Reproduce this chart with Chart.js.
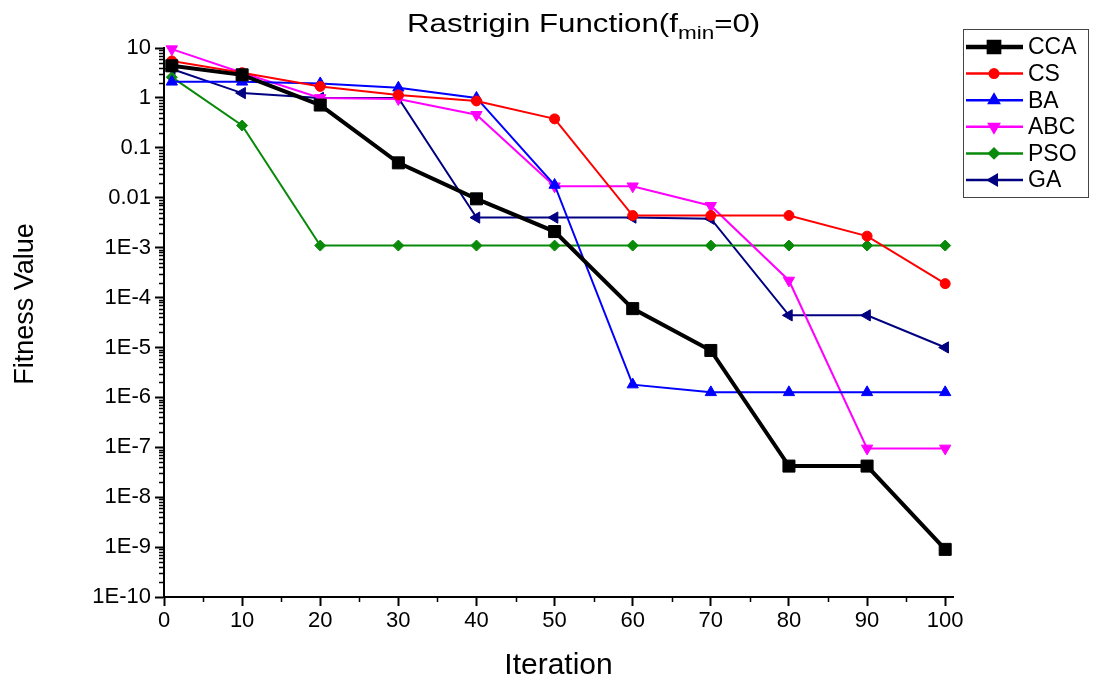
<!DOCTYPE html>
<html>
<head>
<meta charset="utf-8">
<title>Rastrigin Function</title>
<script src="https://cdn.jsdelivr.net/npm/chart.js@4"></script>
<style>
  html, body { margin: 0; padding: 0; background: #fff; }
  #box { width: 1102px; height: 684px; }
</style>
</head>
<body>
<div id="box"><canvas id="fitness"></canvas></div>
<script>
// iterations where each algorithm was sampled
var iterations = [1, 10, 20, 30, 40, 50, 60, 70, 80, 90, 100];

var ccaValues = [4.4, 2.9, 0.72, 0.05, 0.0095, 0.0021, 6e-5, 8.7e-6, 4.2e-8, 4.2e-8, 9e-10];
var csValues  = [5.5, 3.2, 1.7, 1.15, 0.87, 0.38, 0.0044, 0.0044, 0.0044, 0.0017, 1.9e-4];
var baValues  = [2.1, 2.1, 1.95, 1.6, 1.0, 0.018, 1.8e-6, 1.26e-6, 1.26e-6, 1.26e-6, 1.26e-6];
var abcValues = [9.5, 3.2, 1.0, 0.95, 0.46, 0.017, 0.017, 0.0069, 2.2e-4, 9.5e-8, 9.5e-8];
var psoValues = [2.6, 0.28, 0.0011, 0.0011, 0.0011, 0.0011, 0.0011, 0.0011, 0.0011, 0.0011, 0.0011];
var gaValues  = [3.8, 1.25, 1.0, 1.0, 0.004, 0.004, 0.004, 0.0038, 4.4e-5, 4.4e-5, 1e-5];

var xTicks = [0, 10, 20, 30, 40, 50, 60, 70, 80, 90, 100];
var yTicks = [1e-10, 1e-9, 1e-8, 1e-7, 1e-6, 1e-5, 1e-4, 1e-3, 0.01, 0.1, 1, 10];
var yTickLabels = ['1E-10', '1E-9', '1E-8', '1E-7', '1E-6', '1E-5', '1E-4', '1E-3', '0.01', '0.1', '1', '10'];

var FONT = "'Liberation Sans', Arial, sans-serif";

function pts(values) {
    return values.map(function (v, i) { return { x: iterations[i], y: v }; });
}

function series(label, values, color, style, radius, width, rotation) {
    return {
        label: label,
        data: pts(values),
        borderColor: color,
        backgroundColor: color,
        borderWidth: width,
        pointStyle: style,
        pointRadius: radius,
        pointHoverRadius: radius,
        pointBorderWidth: 1,
        pointRotation: rotation || 0,
        tension: 0,
        clip: false
    };
}

// minor ticks, legend box and the text that Chart.js can't lay out (subscript title)
var decorations = {
    id: 'decorations',
    afterDraw: function (chart) {
        var ctx = chart.ctx;
        var xs = chart.scales.x, ys = chart.scales.y;
        var area = chart.chartArea;
        ctx.save();
        ctx.strokeStyle = '#000';
        ctx.lineWidth = 1.5;
        ctx.beginPath();
        for (var n = -10; n < 1; n++) {
            for (var k = 2; k <= 9; k++) {
                var py = Math.round(ys.getPixelForValue(k * Math.pow(10, n))) + 0.5;
                ctx.moveTo(area.left - 5, py);
                ctx.lineTo(area.left, py);
            }
        }
        for (var m = 5; m < 100; m += 10) {
            var px = Math.round(xs.getPixelForValue(m)) + 0.5;
            ctx.moveTo(px, area.bottom);
            ctx.lineTo(px, area.bottom + 5);
        }
        ctx.stroke();

        // title with subscript
        ctx.fillStyle = '#000';
        ctx.textBaseline = 'alphabetic';
        ctx.textAlign = 'left';
        ctx.save();
        ctx.translate(407, 32);
        ctx.scale(1.25, 1);
        ctx.font = '25px ' + FONT;
        var a = 'Rastrigin Function(f';
        ctx.fillText(a, 0, 0);
        var wa = ctx.measureText(a).width;
        ctx.font = '18px ' + FONT;
        ctx.fillText('min', wa, 7);
        var wb = ctx.measureText('min').width;
        ctx.font = '25px ' + FONT;
        ctx.fillText('=0)', wa + wb, 0);
        ctx.restore();

        // y axis title
        ctx.save();
        ctx.translate(33, 304);
        ctx.rotate(-Math.PI / 2);
        ctx.textAlign = 'center';
        ctx.font = '27px ' + FONT;
        ctx.fillText('Fitness Value', 0, 0);
        ctx.restore();

        // legend
        ctx.lineWidth = 1;
        ctx.strokeStyle = '#444';
        ctx.strokeRect(963.5, 29.5, 125, 168);
        chart.data.datasets.forEach(function (ds, i) {
            var ly = 47 + i * 26.6;
            ctx.strokeStyle = ds.borderColor;
            ctx.lineWidth = ds.borderWidth + 0.5;
            ctx.beginPath();
            ctx.moveTo(966, ly);
            ctx.lineTo(1023, ly);
            ctx.stroke();
            ctx.fillStyle = ds.backgroundColor;
            Chart.helpers.drawPoint(ctx, {
                pointStyle: ds.pointStyle,
                rotation: ds.pointRotation,
                radius: ds.pointRadius * 0.85,
                borderWidth: 1
            }, 994, ly);
            ctx.fillStyle = '#000';
            ctx.font = '23px ' + FONT;
            ctx.textBaseline = 'middle';
            ctx.fillText(ds.label, 1028, ly + 1);
        });
        ctx.restore();
    }
};

document.addEventListener("DOMContentLoaded", function () {
    var ctx = document.getElementById('fitness').getContext('2d');
    var fitness = new Chart(ctx, {
        type: 'line',
        data: {
            datasets: [
                series('CCA', ccaValues, '#000000', 'rect', 8.5, 4),
                series('CS', csValues, '#ff0000', 'circle', 5, 2),
                series('BA', baValues, '#0000ff', 'triangle', 6.5, 2),
                series('ABC', abcValues, '#ff00ff', 'triangle', 6.5, 2, 180),
                series('PSO', psoValues, '#0a8a0a', 'rectRot', 5.5, 2),
                series('GA', gaValues, '#000080', 'triangle', 6.5, 2, -90)
            ]
        },
        options: {
            responsive: true,
            maintainAspectRatio: false,
            animation: false,
            layout: { padding: { top: 48, right: 149, left: 0, bottom: 0 } },
            plugins: {
                legend: { display: false },
                title: { display: false },
                tooltip: { enabled: false }
            },
            scales: {
                x: {
                    type: 'linear',
                    min: 0,
                    max: 101,
                    afterFit: function (scale) { scale.height = 87; },
                    afterBuildTicks: function (scale) {
                        scale.ticks = xTicks.map(function (v) { return { value: v }; });
                    },
                    border: { display: true, color: '#000', width: 2 },
                    grid: { drawOnChartArea: false, tickLength: 9, tickColor: '#000', tickWidth: 2 },
                    ticks: {
                        color: '#000',
                        padding: 2,
                        maxRotation: 0,
                        font: { family: FONT, size: 22 },
                        callback: function (v) { return String(v); }
                    },
                    title: {
                        display: true,
                        text: 'Iteration',
                        color: '#000',
                        padding: { top: 0, bottom: 0 },
                        font: { family: FONT, size: 30 }
                    }
                },
                y: {
                    type: 'logarithmic',
                    min: 1e-10,
                    max: 10,
                    afterFit: function (scale) { scale.width = 164; },
                    afterBuildTicks: function (scale) {
                        scale.ticks = yTicks.map(function (v) { return { value: v }; });
                    },
                    border: { display: true, color: '#000', width: 2 },
                    grid: { drawOnChartArea: false, tickLength: 9, tickColor: '#000', tickWidth: 2 },
                    ticks: {
                        color: '#000',
                        padding: 4,
                        autoSkip: false,
                        font: { family: FONT, size: 22 },
                        callback: function (v, i) { return yTickLabels[i]; }
                    }
                }
            }
        },
        plugins: [decorations]
    });
});
</script>
</body>
</html>
